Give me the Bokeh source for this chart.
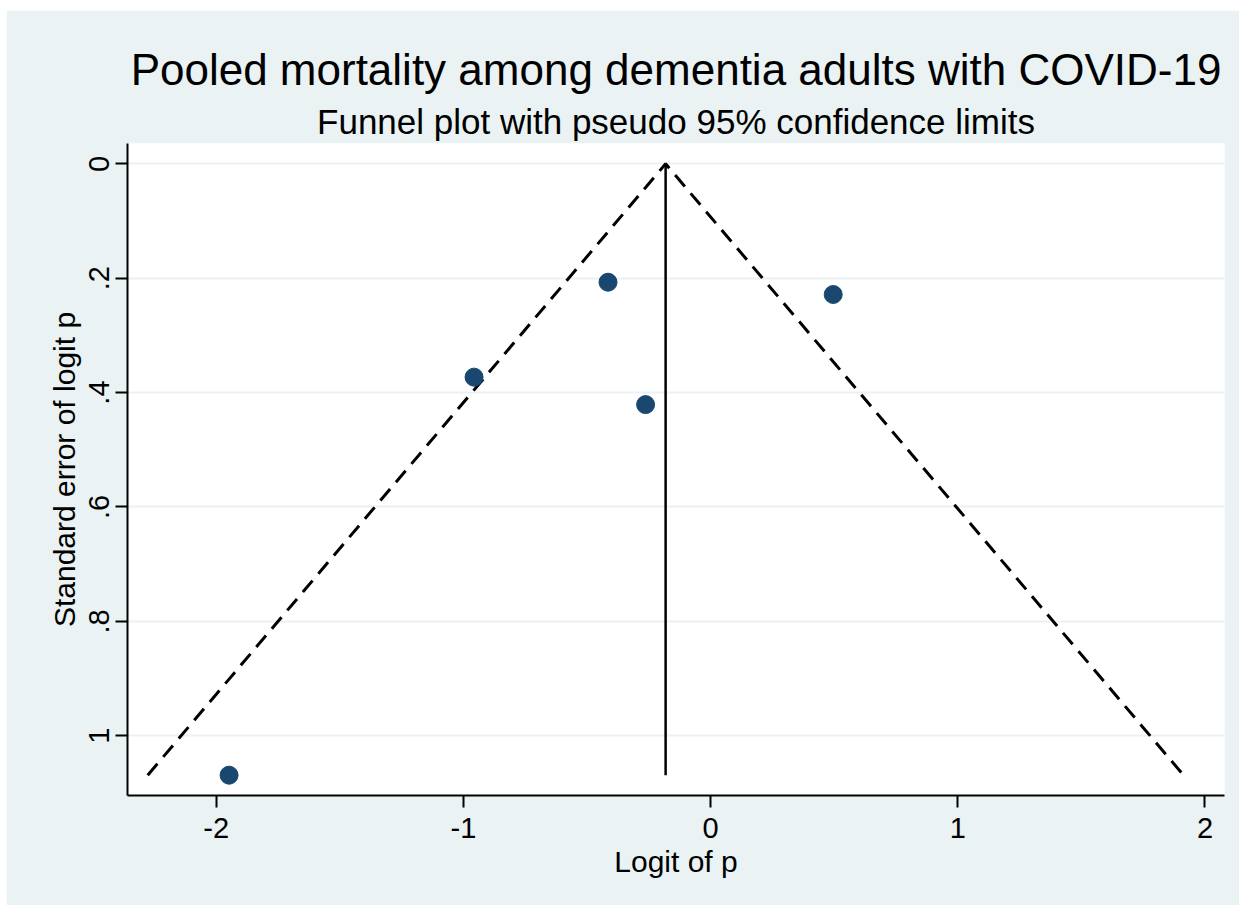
from bokeh.plotting import figure
from bokeh.models import Range1d, FixedTicker, Title, ColumnDataSource
from bokeh.embed import file_html
from bokeh.resources import INLINE

# Data
logit_p = [-1.948, -0.415, 0.496, -0.263, -0.957]
se_logit_p = [1.069, 0.207, 0.2285, 0.421, 0.373]
pooled_logit = -0.182
z95 = 1.96

x_ticks = [-2, -1, 0, 1, 2]
x_tick_labels = ["-2", "-1", "0", "1", "2"]
y_ticks = [0, 0.2, 0.4, 0.6, 0.8, 1.0]
y_tick_labels = ["0", ".2", ".4", ".6", ".8", "1"]

FONT = "Liberation Sans"
BG = "#eaf2f3"
NAVY = "#1a476f"

p = figure(width=1233, height=895,
           x_range=Range1d(-2.359, 2.079), y_range=Range1d(1.1045, -0.0355),
           output_backend="svg", toolbar_location=None,
           margin=(10, 6, 8, 6),
           min_border_left=121, min_border_right=15,
           min_border_top=133, min_border_bottom=110,
           background_fill_color="white", border_fill_color=BG,
           outline_line_color=None)

# titles
p.title.text = "Pooled mortality among dementia adults with COVID-19"
p.title.align = "center"
p.title.text_font = FONT
p.title.text_font_size = "44px"
p.title.text_font_style = "normal"
p.title.text_color = "black"
p.title.standoff = 5
p.add_layout(Title(text="Funnel plot with pseudo 95% confidence limits",
                   align="center", text_font=FONT, text_font_size="35px",
                   text_font_style="normal", text_color="black", standoff=6), "above")

# axes
for ax in (p.xaxis[0], p.yaxis[0]):
    ax.axis_line_color = "black"
    ax.axis_line_width = 2
    ax.major_tick_line_color = "black"
    ax.major_tick_line_width = 2
    ax.major_tick_out = 12
    ax.major_tick_in = 0
    ax.minor_tick_line_color = None
    ax.major_label_text_font = FONT
    ax.major_label_text_font_size = "29px"
    ax.major_label_text_color = "black"
    ax.axis_label_text_font = FONT
    ax.axis_label_text_font_size = "30px"
    ax.axis_label_text_font_style = "normal"
    ax.axis_label_text_color = "black"

p.xaxis.ticker = FixedTicker(ticks=x_ticks)
p.xaxis.major_label_overrides = {t: l for t, l in zip(x_ticks, x_tick_labels)}
p.xaxis.axis_label = "Logit of p"
p.xaxis.major_label_standoff = 10
p.xaxis.axis_label_standoff = 4

p.yaxis.ticker = FixedTicker(ticks=y_ticks)
p.yaxis.major_label_overrides = {t: l for t, l in zip(y_ticks, y_tick_labels)}
p.yaxis.axis_label = "Standard error of logit p"
p.yaxis.major_label_orientation = "vertical"
p.yaxis.major_label_standoff = 6
p.yaxis.axis_label_standoff = 6

p.xgrid.grid_line_color = None
p.ygrid.grid_line_color = BG
p.ygrid.grid_line_width = 2
p.ygrid.ticker = FixedTicker(ticks=y_ticks)

# funnel lines
se_max = max(se_logit_p)
p.line([pooled_logit - z95 * se_max, pooled_logit, pooled_logit + z95 * se_max],
       [se_max, 0, se_max], line_color="black", line_width=3, line_dash="15 9")
p.line([pooled_logit, pooled_logit], [0, se_max], line_color="black", line_width=2.5)

src = ColumnDataSource(dict(x=logit_p, y=se_logit_p))
p.scatter("x", "y", source=src, size=18, fill_color=NAVY, line_color=NAVY)

open("out.html", "w").write(file_html(p, INLINE))
